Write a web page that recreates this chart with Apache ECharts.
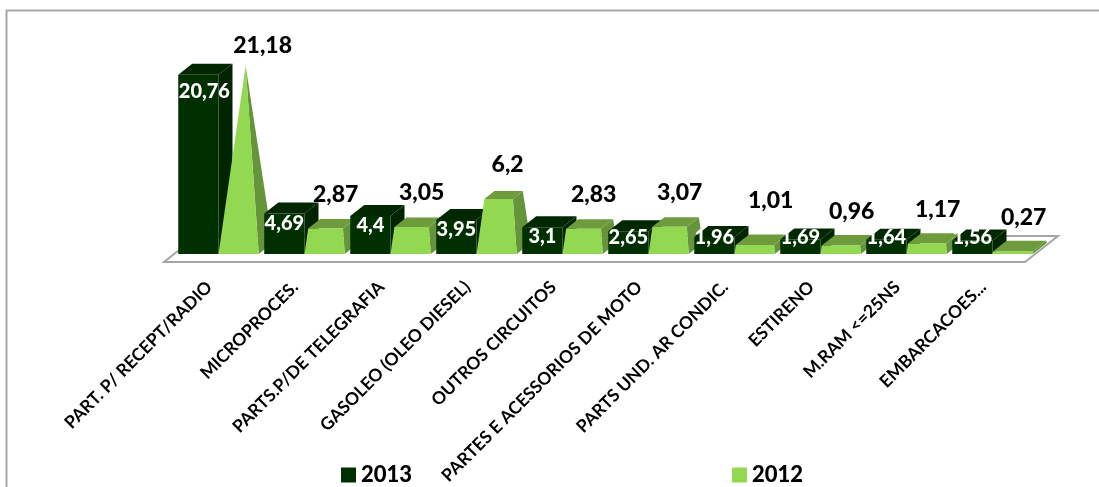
<!DOCTYPE html>
<html>
<head>
<meta charset="utf-8">
<style>
html, body { margin: 0; padding: 0; background: #fff; }
#chart { width: 1099px; height: 487px; }
</style>
<script src="https://cdn.jsdelivr.net/npm/echarts@6/dist/echarts.min.js"></script>
</head>
<body>
<div id="chart"></div>
<script>
var categories = ['PART. P/ RECEPT/RADIO', 'MICROPROCES.', 'PARTS.P/DE TELEGRAFIA', 'GASOLEO (OLEO DIESEL)', 'OUTROS CIRCUITOS',
    'PARTES E ACESSORIOS DE MOTO', 'PARTS UND. AR CONDIC.', 'ESTIRENO', 'M.RAM <=25NS', 'EMBARCACOES...'];
var values2013 = [20.76, 4.69, 4.4, 3.95, 3.1, 2.65, 1.96, 1.69, 1.64, 1.56];
var values2012 = [21.18, 2.87, 3.05, 6.2, 2.83, 3.07, 1.01, 0.96, 1.17, 0.27];

var depthX = 14, depthY = 11;
var dark = { front: '#003000', side: '#002400', top: '#002800' };
var light = { front: '#92d850', side: '#66943a', top: '#6e9c3c' };
var font = 'Lato, "Open Sans", sans-serif';
var maxLight = Math.max.apply(null, values2012);

// where the 2012 labels sit relative to the bar top, the excel layout is not regular
var labelShift2012 = { 0: [24, -20], 6: [16, -44] };
var labelShift2013 = { 0: 6 };

function fmt(v) {
    return String(v).replace('.', ',');
}

function poly(points, fill, z2) {
    return { type: 'polygon', shape: { points: points }, style: { fill: fill }, z2: z2, silent: true };
}

// box series, drawn as a plain 3d column
function renderDark(params, api) {
    var i = api.value(0), v = api.value(1);
    var band = api.size([1, 0])[0];
    var w = band * 0.468;
    var top = api.coord([i, v]);
    var base = api.coord([i, 0]);
    var x0 = base[0] - w, x1 = base[0];
    var z = i * 10;
    var labelY = Math.min(top[1] + 8 + v * 0.4, base[1] - 16);
    return {
        type: 'group',
        children: [
            poly([[x1, base[1]], [x1 + depthX, base[1] - depthY], [x1 + depthX, top[1] - depthY], [x1, top[1]]], dark.side, z),
            poly([[x0, top[1]], [x1, top[1]], [x1 + depthX, top[1] - depthY], [x0 + depthX, top[1] - depthY]], dark.top, z),
            poly([[x0, top[1]], [x1, top[1]], [x1, base[1]], [x0, base[1]]], dark.front, z),
            {
                type: 'text', x: base[0] - w / 2 + (labelShift2013[i] || 0), y: labelY, z2: 1000, silent: true,
                style: { text: fmt(v), fill: '#fff', font: '900 20px ' + font, align: 'center', verticalAlign: 'middle' }
            }
        ]
    };
}

// pyramid series, every bar is a slice of a pyramid as high as the biggest value
function renderLight(params, api) {
    var i = api.value(0), v = api.value(1);
    var band = api.size([1, 0])[0];
    var w = band * 0.468;
    var base = api.coord([i, 0]);
    var x0 = base[0], x1 = base[0] + w;
    var y0 = base[1];
    var apex = [x0 + w / 2 + depthX / 2, api.coord([i, maxLight])[1] - depthY / 2];
    var t = v / maxLight;
    function toApex(p) {
        return [p[0] + (apex[0] - p[0]) * t, p[1] + (apex[1] - p[1]) * t];
    }
    var fl = [x0, y0], fr = [x1, y0], br = [x1 + depthX, y0 - depthY], bl = [x0 + depthX, y0 - depthY];
    var tfl = toApex(fl), tfr = toApex(fr), tbr = toApex(br), tbl = toApex(bl);
    var z = i * 10 + 5;
    var shift = labelShift2012[i] || [11, -34];
    return {
        type: 'group',
        children: [
            poly([fr, br, tbr, tfr], light.side, z),
            poly([tfl, tfr, tbr, tbl], light.top, z),
            poly([fl, fr, tfr, tfl], light.front, z),
            {
                type: 'text', x: x0 + w / 2 + shift[0], y: tfl[1] + shift[1], z2: 1000, silent: true,
                style: { text: fmt(v), fill: '#000', font: '900 23px ' + font, align: 'center', verticalAlign: 'middle' }
            }
        ]
    };
}

function renderFloor(params, api) {
    var g = params.coordSys;
    var y = g.y + g.height;
    return {
        type: 'polygon',
        silent: true,
        z2: -1,
        shape: { points: [[g.x - 11.5, y + 8], [g.x + g.width - 10.5, y + 8], [g.x + g.width + 22.5, y - 18], [g.x + 21.5, y - 18]] },
        style: { fill: '#fff', stroke: '#a6a6a6', lineWidth: 2 }
    };
}

var chart = echarts.init(document.getElementById('chart'));
chart.setOption({
    animation: false,
    backgroundColor: '#fff',
    graphic: [{
        type: 'polyline',
        silent: true,
        shape: { points: [[6.5, 487], [6.5, 10.5], [1099, 10.5]] },
        style: { fill: null, stroke: '#a6a6a6', lineWidth: 2 }
    }],
    legend: {
        left: 336,
        top: 459,
        itemWidth: 15,
        itemHeight: 15,
        itemGap: 320,
        icon: 'rect',
        data: ['2013', '2012'],
        textStyle: { color: '#000', fontFamily: font, fontWeight: 900, fontSize: 22 }
    },
    grid: { left: 175.5, width: 860, top: 38.25, height: 215.75, outerBoundsMode: 'none' },
    xAxis: {
        type: 'category',
        data: categories,
        axisLine: { show: false },
        axisTick: { show: false },
        axisLabel: { interval: 0, rotate: 45, margin: 21, padding: [0, 13, 0, 0], color: '#000', fontFamily: font, fontWeight: 'bold', fontSize: 17.5 }
    },
    yAxis: { type: 'value', min: 0, max: 25, show: false },
    series: [
        { type: 'custom', name: 'floor', renderItem: renderFloor, data: [[0, 0]], encode: { x: 0, y: 1 }, clip: false, z: 1 },
        {
            type: 'custom', name: '2013', renderItem: renderDark, clip: false, z: 2,
            itemStyle: { color: dark.front }, encode: { x: 0, y: 1 },
            data: values2013.map(function (v, i) { return [i, v]; })
        },
        {
            type: 'custom', name: '2012', renderItem: renderLight, clip: false, z: 2,
            itemStyle: { color: light.front }, encode: { x: 0, y: 1 },
            data: values2012.map(function (v, i) { return [i, v]; })
        }
    ]
});
window.addEventListener('resize', function () {
    chart.resize();
});
</script>
</body>
</html>
